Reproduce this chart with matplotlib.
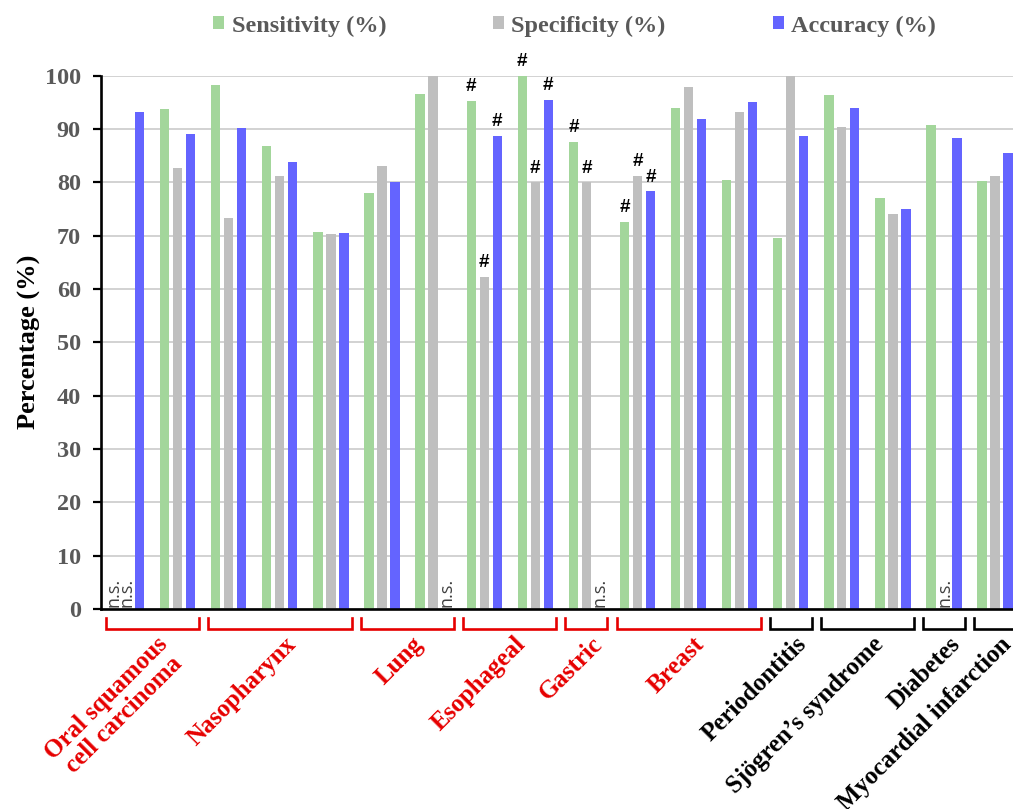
import numpy as np
import matplotlib
matplotlib.use("Agg")
import matplotlib.pyplot as plt
import matplotlib.transforms as mtransforms
from matplotlib.patches import Patch

# ---------------------------------------------------------------------------
# Data; NaN = not stated ("n.s.")
# ---------------------------------------------------------------------------
NS = np.nan

diseases = ["Oral squamous\ncell carcinoma", "Nasopharynx", "Lung", "Esophageal",
            "Gastric", "Breast", "Periodontitis", "Sjögren’s syndrome",
            "Diabetes", "Myocardial infarction"]
studies_per_disease = [2, 3, 2, 2, 1, 3, 1, 2, 1, 1]
is_cancer = [True, True, True, True, True, True, False, False, False, False]

sensitivity = [NS, 93.8, 98.3, 86.7, 70.6, 77.9, 96.6, 95.3, 100.0, 87.6,
               72.6, 94.0, 80.5, 69.5, 96.4, 77.0, 90.8, 80.3]
specificity = [NS, 82.6, 73.2, 81.2, 70.2, 83.0, 100.0, 62.3, 80.0, 80.0,
               81.2, 97.9, 93.1, 100.0, 90.4, 74.0, NS, 81.2]
accuracy = [93.1, 89.1, 90.1, 83.8, 70.4, 80.0, NS, 88.7, 95.5, NS,
            78.3, 91.9, 95.0, 88.7, 94.0, 74.9, 88.3, 85.4]

# study indices flagged with "#"
sens_flag = [7, 8, 9, 10]
spec_flag = [7, 8, 9, 10]
acc_flag = [7, 8, 10]

series_names = ["Sensitivity (%)", "Specificity (%)", "Accuracy (%)"]
yticks = [0, 10, 20, 30, 40, 50, 60, 70, 80, 90, 100]

# ---------------------------------------------------------------------------
# Style
# ---------------------------------------------------------------------------
SERIF = "Liberation Serif"
colors = ["#A3D69B", "#BFBFBF", "#6464FF"]
RED = "#E60000"
TICK_GREY = "#595959"

fig = plt.figure(figsize=(10.13, 8.09), dpi=100)
ax = fig.add_axes([101 / 1013, 200 / 809, 1 - 101 / 1013, 533.5 / 809])

x = np.arange(len(sensitivity))
offsets = [-0.254, 0.0, 0.254]
width = 0.182

all_series = [sensitivity, specificity, accuracy]
all_flags = [sens_flag, spec_flag, acc_flag]

for vals, flags, off, col in zip(all_series, all_flags, offsets, colors):
    vals = np.asarray(vals, dtype=float)
    ok = np.isfinite(vals)
    ax.bar(x[ok] + off, vals[ok], width, color=col, zorder=2)
    for xi in x[~ok]:
        ax.text(xi + off, 0.4, "n.s.", rotation=90, ha="center", va="bottom",
                fontsize=13, family="Open Sans", color="#404040", zorder=3)
    for i in flags:
        ax.annotate("#", xy=(x[i] + off, vals[i]), xytext=(0, 4),
                    textcoords="offset points", ha="center", va="bottom",
                    fontsize=13.5, fontweight="bold", family="Liberation Sans",
                    color="black")

ax.set_ylim(0, 100)
ax.set_xlim(-0.5, 17.35)
ax.set_yticks(yticks)
ax.yaxis.grid(True, color="#CFCFCF", linewidth=1.3, zorder=0)
ax.set_axisbelow(True)
ax.set_xticks([])

for s in ["top", "right"]:
    ax.spines[s].set_visible(False)
for s in ["left", "bottom"]:
    ax.spines[s].set_linewidth(1.9)
    ax.spines[s].set_color("black")
    ax.spines[s].set_zorder(4)

ax.tick_params(axis="y", direction="out", length=5.5, width=1.6, pad=9,
               colors="black", labelcolor=TICK_GREY)
for lab in ax.get_yticklabels():
    lab.set_fontfamily(SERIF)
    lab.set_fontweight("bold")
    lab.set_fontsize(17.5)

ax.set_ylabel("Percentage (%)", family=SERIF, fontweight="bold", fontsize=19,
              color="black")
ax.yaxis.set_label_coords(-0.066, 0.5)

# ---------------------------------------------------------------------------
# Disease brackets and labels below the axis
# ---------------------------------------------------------------------------
trans = mtransforms.blended_transform_factory(ax.transData, ax.transAxes)
start = 0
for name, n, cancer in zip(diseases, studies_per_disease, is_cancer):
    c = RED if cancer else "black"
    x0 = start - 0.5 + 0.09
    x1 = start + n - 1 + 0.5 - 0.09
    ax.plot([x0, x0, x1, x1], [-0.017, -0.038, -0.038, -0.017], color=c,
            linewidth=1.9, transform=trans, clip_on=False,
            solid_joinstyle="miter")
    xc = start + (n - 1) / 2
    ax.text(xc + 0.08, -0.044, name, rotation=45, rotation_mode="anchor",
            ha="right", va="top", multialignment="center",
            family=SERIF, fontweight="bold", fontsize=18, color=c,
            transform=trans, linespacing=1.05)
    start += n

# ---------------------------------------------------------------------------
# Legend
# ---------------------------------------------------------------------------
handles = [Patch(facecolor=c, edgecolor="none") for c in colors]
leg = fig.legend(handles, series_names, loc="center", ncol=3,
                 bbox_to_anchor=(574.5 / 1013, 1 - 26 / 809),
                 frameon=False, handlelength=0.45, handleheight=0.45,
                 handletextpad=0.3, columnspacing=4.4,
                 prop={"family": SERIF, "weight": "bold", "size": 17.5})
for t in leg.get_texts():
    t.set_color(TICK_GREY)

fig.savefig("out.png", dpi=100)
